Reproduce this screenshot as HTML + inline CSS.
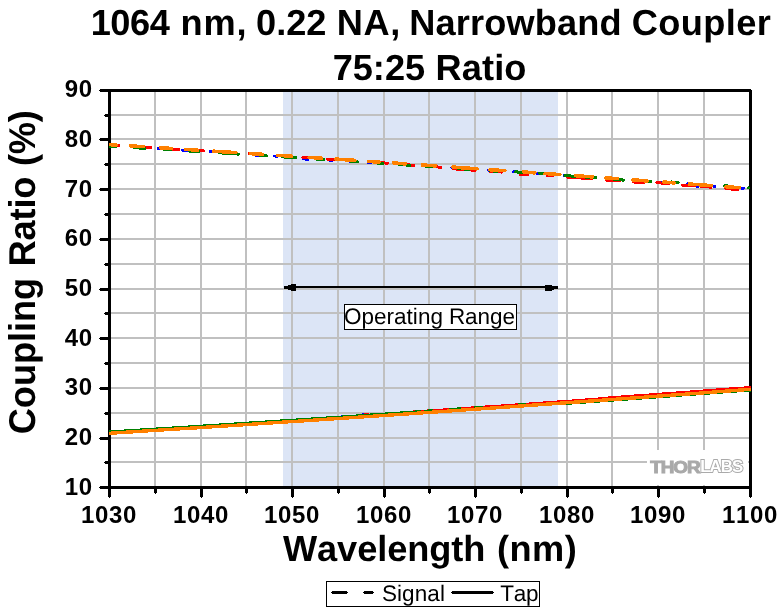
<!DOCTYPE html>
<html lang="en"><head><meta charset="utf-8"><title>1064 nm, 0.22 NA, Narrowband Coupler 75:25 Ratio</title>
<style>
html,body{margin:0;padding:0;background:#fff;}
body{width:780px;height:608px;overflow:hidden;}
svg{display:block;}
text{font-family:"Liberation Sans",sans-serif;fill:#000;font-kerning:none;}
.k{font-size:24px;font-weight:bold;letter-spacing:0.65px;}
.crisp{shape-rendering:crispEdges;}
</style></head><body>
<svg width="780" height="608" viewBox="0 0 780 608">
<rect width="780" height="608" fill="#fff"/>
<rect class="crisp" x="283" y="91" width="275" height="396" fill="#dce5f6"/>
<g class="crisp" fill="#c0c0c0">
<rect x="154" y="91" width="2" height="396"/>
<rect x="200" y="91" width="2" height="396"/>
<rect x="245" y="91" width="2" height="396"/>
<rect x="291" y="91" width="2" height="396"/>
<rect x="337" y="91" width="2" height="396"/>
<rect x="383" y="91" width="2" height="396"/>
<rect x="428" y="91" width="2" height="396"/>
<rect x="474" y="91" width="2" height="396"/>
<rect x="520" y="91" width="2" height="396"/>
<rect x="566" y="91" width="2" height="396"/>
<rect x="611" y="91" width="2" height="396"/>
<rect x="657" y="91" width="2" height="396"/>
<rect x="703" y="91" width="2" height="396"/>
<rect x="110" y="461" width="640" height="2"/>
<rect x="110" y="437" width="640" height="2"/>
<rect x="110" y="412" width="640" height="2"/>
<rect x="110" y="387" width="640" height="2"/>
<rect x="110" y="362" width="640" height="2"/>
<rect x="110" y="337" width="640" height="2"/>
<rect x="110" y="312" width="640" height="2"/>
<rect x="110" y="288" width="640" height="2"/>
<rect x="110" y="263" width="640" height="2"/>
<rect x="110" y="238" width="640" height="2"/>
<rect x="110" y="213" width="640" height="2"/>
<rect x="110" y="188" width="640" height="2"/>
<rect x="110" y="163" width="640" height="2"/>
<rect x="110" y="138" width="640" height="2"/>
<rect x="110" y="114" width="640" height="2"/>
</g>
<rect class="crisp" x="647" y="450" width="101" height="35" fill="#fff"/>
<g font-family="&quot;Liberation Sans&quot;,sans-serif" font-weight="bold" font-size="17.4px">
<text x="650.2" y="472.6" textLength="49.3" lengthAdjust="spacingAndGlyphs" style="fill:#a9a9a9;stroke:#a9a9a9;stroke-width:1px;letter-spacing:-1px">THOR</text>
<text x="700.2" y="472.4" textLength="42" lengthAdjust="spacingAndGlyphs" style="fill:#fff;stroke:#aaaaaa;stroke-width:1.9px;paint-order:stroke;stroke-linejoin:miter;letter-spacing:-1px">LABS</text>
</g>
<g class="crisp" fill="#000">
<rect x="284" y="286" width="274" height="2"/>
<rect x="284" y="286" width="4" height="3"/><rect x="288" y="285" width="3" height="5"/><rect x="291" y="284" width="5" height="7"/>
<rect x="554" y="286" width="4" height="3"/><rect x="552" y="286" width="2" height="4"/><rect x="545" y="285" width="7" height="6"/>
</g>
<rect class="crisp" x="344.5" y="304.5" width="172" height="25" fill="#fff" stroke="#000" stroke-width="1"/>
<text  y="324" font-size="22.5px" style="text-rendering:geometricPrecision"><tspan x="343.93" style="letter-spacing:0.026px">Operating</tspan> <tspan x="448.95" style="letter-spacing:-0.064px">Range</tspan></text>
<g class="crisp" fill="#000">
<rect x="100" y="89" width="651" height="3"/>
<rect x="100" y="486" width="652" height="3"/>
<rect x="108" y="89" width="3" height="408"/>
<rect x="749" y="90" width="3" height="407"/>
<rect x="108" y="488" width="3" height="9"/><rect x="109" y="497" width="1" height="1"/>
<rect x="154" y="488" width="3" height="5"/><rect x="155" y="493" width="1" height="1"/>
<rect x="200" y="488" width="3" height="9"/><rect x="201" y="497" width="1" height="1"/>
<rect x="245" y="488" width="3" height="5"/><rect x="246" y="493" width="1" height="1"/>
<rect x="291" y="488" width="3" height="9"/><rect x="292" y="497" width="1" height="1"/>
<rect x="337" y="488" width="3" height="5"/><rect x="338" y="493" width="1" height="1"/>
<rect x="383" y="488" width="3" height="9"/><rect x="384" y="497" width="1" height="1"/>
<rect x="428" y="488" width="3" height="5"/><rect x="429" y="493" width="1" height="1"/>
<rect x="474" y="488" width="3" height="9"/><rect x="475" y="497" width="1" height="1"/>
<rect x="520" y="488" width="3" height="5"/><rect x="521" y="493" width="1" height="1"/>
<rect x="566" y="488" width="3" height="9"/><rect x="567" y="497" width="1" height="1"/>
<rect x="611" y="488" width="3" height="5"/><rect x="612" y="493" width="1" height="1"/>
<rect x="657" y="488" width="3" height="9"/><rect x="658" y="497" width="1" height="1"/>
<rect x="703" y="488" width="3" height="5"/><rect x="704" y="493" width="1" height="1"/>
<rect x="749" y="488" width="3" height="9"/><rect x="750" y="497" width="1" height="1"/>
<rect x="100" y="486" width="9" height="3"/><rect x="99" y="487" width="1" height="1"/>
<rect x="105" y="461" width="4" height="3"/><rect x="104" y="462" width="1" height="1"/>
<rect x="100" y="437" width="9" height="3"/><rect x="99" y="438" width="1" height="1"/>
<rect x="105" y="412" width="4" height="3"/><rect x="104" y="413" width="1" height="1"/>
<rect x="100" y="387" width="9" height="3"/><rect x="99" y="388" width="1" height="1"/>
<rect x="105" y="362" width="4" height="3"/><rect x="104" y="363" width="1" height="1"/>
<rect x="100" y="337" width="9" height="3"/><rect x="99" y="338" width="1" height="1"/>
<rect x="105" y="312" width="4" height="3"/><rect x="104" y="313" width="1" height="1"/>
<rect x="100" y="288" width="9" height="3"/><rect x="99" y="289" width="1" height="1"/>
<rect x="105" y="263" width="4" height="3"/><rect x="104" y="264" width="1" height="1"/>
<rect x="100" y="238" width="9" height="3"/><rect x="99" y="239" width="1" height="1"/>
<rect x="105" y="213" width="4" height="3"/><rect x="104" y="214" width="1" height="1"/>
<rect x="100" y="188" width="9" height="3"/><rect x="99" y="189" width="1" height="1"/>
<rect x="105" y="163" width="4" height="3"/><rect x="104" y="164" width="1" height="1"/>
<rect x="100" y="138" width="9" height="3"/><rect x="99" y="139" width="1" height="1"/>
<rect x="105" y="114" width="4" height="3"/><rect x="104" y="115" width="1" height="1"/>
<rect x="100" y="89" width="9" height="3"/><rect x="99" y="90" width="1" height="1"/>
</g>
<clipPath id="pc"><rect x="109" y="91" width="642" height="396"/></clipPath>
<g clip-path="url(#pc)">
<g class="crisp" fill="none" stroke-width="3" stroke-linecap="round">
<path stroke="#0000ff" d="M158.2 148.5L163.0 148.8M182.2 150.1L188.6 150.5M210.2 151.5L213.0 151.7M256.8 155.9L259.0 156.0M274.8 156.0L277.0 156.2M303.0 158.9L308.0 159.2M330.0 160.7L332.0 160.8M350.0 161.7L350.5 161.7M368.0 162.7L371.0 162.9M451.8 167.4L452.3 167.5M488.2 170.1L489.0 170.2M513.0 171.9L515.0 172.0M537.3 173.4L539.0 173.5M564.0 175.3L564.5 175.3M661.8 182.0L663.0 182.0M687.8 183.9L688.3 183.9M696.0 186.1L698.0 186.2M713.2 186.1L715.0 186.3M741.4 188.2L743.3 188.4"/>
<path stroke="#ff0000" d="M109.0 145.2L119.0 145.8M139.0 147.0L151.0 147.8M167.0 148.9L178.7 149.6M193.0 150.2L204.0 150.9M249.0 153.8L253.0 154.1M303.0 157.4L309.0 157.8M327.2 159.0L335.0 159.5M377.0 162.5L387.7 163.2M401.0 164.4L414.0 165.3M431.0 166.5L441.0 167.2M453.0 168.8L475.0 170.3M490.0 171.3L502.0 172.1M520.0 174.2L527.7 174.7M547.7 175.6L553.0 176.0M567.7 177.1L592.0 178.8M606.0 180.0L619.8 181.0M633.5 182.0L644.0 182.8M656.8 182.7L669.0 183.6M682.2 185.0L694.3 185.9M701.0 186.4L711.0 187.2M726.0 188.6L738.0 189.5"/>
<path stroke="#008000" d="M109.0 146.2L116.0 146.6M134.2 147.7L144.9 148.4M164.5 149.6L170.3 150.0M189.2 151.0L198.5 151.6M219.0 152.8L239.0 154.1M260.0 155.6L267.0 156.0M282.7 156.9L296.0 157.8M316.0 159.1L324.0 159.7M351.0 161.5L358.0 161.9M377.0 163.0L383.0 163.4M399.0 164.5L410.0 165.3M425.0 166.1L435.0 166.8M458.0 168.6L469.0 169.3M490.0 170.8L497.0 171.3M515.7 171.9L522.3 172.3M539.3 173.0L545.7 173.5M565.0 175.6L596.0 177.8M613.5 179.3L623.7 180.1M641.0 180.5L651.0 181.3M671.0 181.9L678.2 182.5M724.2 185.8L729.0 186.1M748.0 187.9L749.0 188.0"/>
<path stroke="#ff8000" stroke-width="3.6" d="M109.0 144.6L116.0 145.0M130.3 145.9L143.5 146.7M160.7 147.8L171.7 148.5M185.7 149.4L197.8 150.1M213.5 151.2L236.0 152.6M250.7 153.6L262.3 154.3M277.7 155.3L291.5 156.2M309.3 157.4L321.5 158.2M335.7 159.1L354.8 160.4M368.8 161.4L379.0 162.1M393.5 163.0L405.7 163.9M422.3 165.0L435.7 165.9M453.0 167.1L477.0 168.8M490.0 169.7L504.8 170.7M523.5 172.0L534.8 172.8M545.0 173.5L559.8 174.6M575.7 175.7L592.7 176.9M606.0 177.9L617.3 178.7M633.0 179.9L647.3 180.9M664.0 182.1L674.3 182.9M689.2 184.0L711.2 185.6M726.0 186.7L739.4 187.7"/>
<path stroke="#0000ff" d="M108.0 431.4L112.0 431.2M281.0 420.4L284.0 420.2M313.0 418.3L317.0 418.0M342.0 416.3L345.0 416.1M362.0 415.0L365.0 414.8"/>
<path stroke="#ff0000" d="M364.0 415.0L368.0 414.7M372.0 414.4L376.0 414.1M405.0 412.6L413.5 412.0L422.0 411.4L430.4 410.8L438.9 410.3L447.4 409.7L455.9 409.1L464.3 408.5L472.8 407.9L481.3 407.3L489.8 406.7L498.3 406.2L506.7 405.6L515.2 405.0L523.7 404.4L532.2 403.8L540.7 403.2L549.1 402.6L557.6 402.0L566.1 401.4L574.6 400.8L583.0 400.2L591.5 399.5L600.0 398.9M600.0 398.5L606.6 398.1L613.2 397.6L619.8 397.1L626.4 396.6L633.0 396.1L639.7 395.7L646.3 395.2L652.9 394.7L659.5 394.2L666.1 393.7L672.7 393.2L679.3 392.8L685.9 392.3L692.5 391.8L699.1 391.3L705.7 390.8L712.3 390.3L719.0 389.8L725.6 389.3L732.2 388.8L738.8 388.4L745.4 387.9L752.0 387.4"/>
<path stroke="#008000" d="M108.0 432.0L121.6 431.2L135.1 430.3L148.7 429.5L162.3 428.6L175.8 427.8L189.4 426.9L203.0 426.0L216.5 425.2L230.1 424.3L243.7 423.4L257.2 422.5L270.8 421.6L284.3 420.7L297.9 419.9L311.5 419.0L325.0 418.1L338.6 417.2L352.2 416.3L365.7 415.3L379.3 414.4L392.9 413.5L406.4 412.6L420.0 411.7M425.0 411.2L432.0 410.7M450.0 409.5L460.0 408.8M475.0 407.8L482.0 407.3M519.0 404.7L525.0 404.3M560.0 403.9L568.3 403.3L576.7 402.7L585.0 402.1L593.4 401.5L601.7 400.9L610.1 400.3L618.4 399.7L626.8 399.1L635.1 398.5L643.5 397.9L651.8 397.3L660.2 396.7L668.5 396.1L676.9 395.4L685.2 394.8L693.6 394.2L701.9 393.6L710.3 393.0L718.6 392.4L727.0 391.7L735.3 391.1L743.7 390.5L752.0 389.9"/>
<path stroke="#ff8000" stroke-width="3.4" d="M108.0 433.4L136.0 431.6L164.0 429.8L192.0 428.1L220.0 426.3L248.0 424.5L276.0 422.6L304.0 420.8L332.0 418.9L360.0 417.1L388.0 415.2L416.0 413.3L444.0 411.4L472.0 409.4L500.0 407.5L528.0 405.5L556.0 403.5L584.0 401.5L612.0 399.5L640.0 397.5L668.0 395.4L696.0 393.4L724.0 391.3L752.0 389.2"/>
</g>
</g>
<g class="k">
<text x="81" y="523">1030</text>
<text x="173" y="523">1040</text>
<text x="264" y="523">1050</text>
<text x="356" y="523">1060</text>
<text x="447" y="523">1070</text>
<text x="539" y="523">1080</text>
<text x="630" y="523">1090</text>
<text x="722" y="523">1100</text>
</g>
<g class="k">
<text x="64.8" y="495">10</text>
<text x="64.8" y="445">20</text>
<text x="64.8" y="395">30</text>
<text x="64.8" y="346">40</text>
<text x="64.8" y="296">50</text>
<text x="64.8" y="246">60</text>
<text x="64.8" y="197">70</text>
<text x="64.8" y="147">80</text>
<text x="64.8" y="97">90</text>
</g>
<text  y="35" font-size="36.2px" style="text-rendering:geometricPrecision" font-weight="bold"><tspan x="90.72" style="letter-spacing:-0.485px">1064</tspan> <tspan x="180.41" style="letter-spacing:0.925px">nm,</tspan> <tspan x="256.07" style="letter-spacing:-0.025px">0.22</tspan> <tspan x="336.78" style="letter-spacing:0.650px">NA,</tspan> <tspan x="409.28" style="letter-spacing:0.124px">Narrowband</tspan> <tspan x="631.82" style="letter-spacing:0.379px">Coupler</tspan></text>
<text  y="80" font-size="36.2px" style="text-rendering:geometricPrecision" font-weight="bold"><tspan x="332.64" style="letter-spacing:-0.006px">75:25</tspan> <tspan x="435.58" style="letter-spacing:0.084px">Ratio</tspan></text>
<text  y="561" font-size="36.2px" style="text-rendering:geometricPrecision" font-weight="bold"><tspan x="282.96" style="letter-spacing:-0.063px">Wavelength</tspan> <tspan x="496.90" style="letter-spacing:0.499px">(nm)</tspan></text>
<text transform="translate(35.3,432.8) rotate(-90) scale(1,1.03)" y="0" font-size="36.2px" style="text-rendering:geometricPrecision" font-weight="bold"><tspan x="-1.48" style="letter-spacing:-0.045px">Coupling</tspan> <tspan x="166.38" style="letter-spacing:-0.166px">Ratio</tspan> <tspan x="266.80" style="letter-spacing:-0.196px">(%)</tspan></text>
<rect class="crisp" x="326.5" y="581.5" width="213" height="25" fill="#fff" stroke="#000" stroke-width="1"/>
<g class="crisp" fill="#000"><rect x="332" y="591" width="15" height="3"/><rect x="331" y="592" width="17" height="1"/><rect x="364" y="591" width="9" height="3"/><rect x="363" y="592" width="11" height="1"/><rect x="452" y="591" width="41" height="3"/><rect x="451" y="592" width="43" height="1"/></g>
<text  y="601" font-size="22.5px" style="text-rendering:geometricPrecision"><tspan x="381.88" style="letter-spacing:0.096px">Signal</tspan></text>
<text  y="601" font-size="22.5px" style="text-rendering:geometricPrecision"><tspan x="500.29" style="letter-spacing:-0.210px">Tap</tspan></text>
</svg></body></html>
